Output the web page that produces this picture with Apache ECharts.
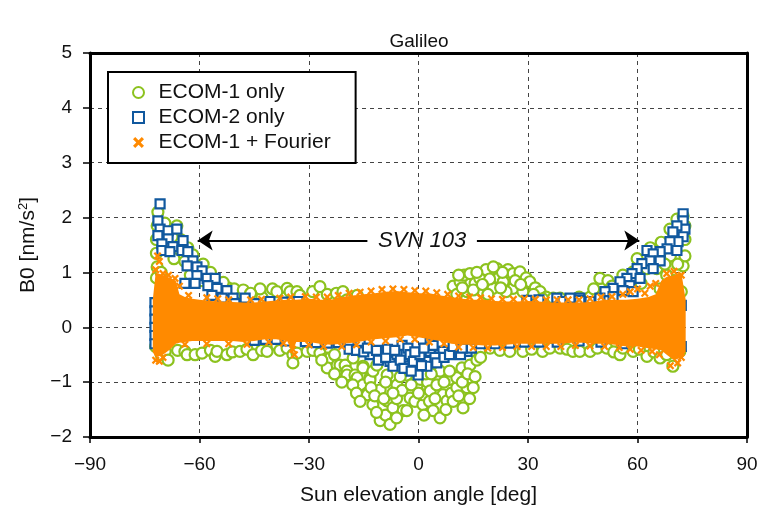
<!DOCTYPE html>
<html>
<head>
<meta charset="utf-8">
<script src="https://cdn.jsdelivr.net/npm/echarts@6/dist/echarts.min.js"></script>
<style>
html,body{margin:0;padding:0;background:#fff;}
#chart{width:763px;height:511px;}
</style>
</head>
<body>
<div id="chart"></div>
<script>
// ---------- axis ticks ----------
const xTicks = [-90, -60, -30, 0, 30, 60, 90];
const yTicks = [-2, -1, 0, 1, 2, 3, 4, 5];

// ---------- ECOM-1 only (green circles) ----------
const ecom1 = [
  [-71.4,2.1],[-71.6,1.85],[-71.8,1.6],[-71.8,1.35],[-71.6,1.1],[-71.8,0.9],[-70.5,1.0],[-69.5,1.9],[-66.2,1.85],
  [-65.2,1.6],[-67,1.25],[-63.2,1.45],[-61.8,1.32],[-61.2,1.07],[-59,1.15],[-58.5,0.95],[-56.6,0.89],[-55,0.8],
  [-52.2,0.72],[-50,0.62],[-47.5,0.6],[-45,0.57],[-42.9,0.55],[-43.4,0.7],[-40,0.7],[-38.8,0.65],[-36,0.71],
  [-35.2,0.65],[-33.3,0.65],[-32.5,0.58],[-29,0.65],[-27,0.74],[-25,0.6],[-22.5,0.62],[-20.7,0.65],[-19.6,0.5],[-16.8,0.58],
  [-67.5,1.65],[-64,1.2],[-62.5,0.95],[-59.5,0.85],[-57,1.0],[-53.5,0.82],[-50.5,0.7],[-48,0.68],[-46,0.62],
  [-72,-0.35],[-70.5,-0.5],[-69.4,-0.44],[-68.6,-0.6],[-66,-0.42],[-64,-0.44],[-63.4,-0.5],[-61.2,-0.5],[-59.3,-0.47],
  [-57,-0.42],[-55.7,-0.53],[-55.2,-0.44],[-52.5,-0.5],[-51,-0.45],[-48.9,-0.44],[-47,-0.4],[-45.3,-0.5],[-43,-0.42],
  [-41.5,-0.44],[-38.8,-0.33],[-38,-0.42],[-36,-0.38],[-34.4,-0.5],[-34.4,-0.65],[-33.3,-0.47],[-30.5,-0.44],[-28.9,-0.42],
  [-27,-0.47],[-25,-0.56],[-24.2,-0.56],[-25,-0.74],[-22.3,-0.69],[-21.5,-0.69],[-20.1,-0.69],[-19.6,-0.8],[-19.6,-0.87],
  [-17.9,-0.56],[-17.4,-0.87],[-16.8,-0.92],[-15.2,-0.71],[-15.2,-0.74],[-15.2,-1.05],[-14.1,-1.2],[-14,-1.23],[-13.3,-0.92],
  [-13.3,-0.96],[-12.5,-0.8],[-12.5,-1.41],[-11.4,-0.69],[-10.5,-1.14],[-10.5,-1.7],[-9,-1.6],[-8.6,-0.87],[-8.6,-1.34],
  [-7.8,-1.77],[-7,-1.47],[-6,-1.3],[-5.9,-1.05],[-4.5,-1.15],[-4.2,-1.52],[-3.2,-0.87],[-3.2,-1.52],[-2.3,-1.29],
  [-1,-1.35],[-0.4,-1.05],[0.5,-0.95],[1.2,-1.41],[1.2,-1.23],[2.5,-1.0],[3,-1.35],[3.2,-1.16],[4,-1.52],[5,-1.05],
  [5.9,-1.65],[5.9,-0.8],[6.7,-1.23],[7.8,-1.34],[8.5,-0.95],[9,-1.2],[10.5,-1.1],[10.5,-0.92],[11.9,-0.74],[12.2,-1.47],
  [13.3,-1.1],[14.1,-0.92],[14.1,-0.69],[15,-1.1],[16.8,-0.44],[19.6,-0.38],[22.3,-0.42],[25,-0.44],[28.6,-0.44],
  [-23,-0.85],[-21,-1.0],[-18,-1.05],[-17,-1.2],[-16,-1.35],[-13,-1.1],[-12,-1.25],[-11.5,-1.55],[-9.5,-1.3],[-9,-1.0],
  [-7,-1.2],[-6,-1.65],[-5,-0.9],[-2,-1.05],[0,-1.2],[1.5,-1.6],[2,-0.85],[3.5,-0.85],[4.5,-1.3],[7,-1.0],[7.5,-1.5],
  [8.5,-0.8],[9.5,-1.35],[11,-1.25],[12,-1.0],[13.5,-0.85],[14,-1.3],[15.5,-0.9],[16,-0.6],[17,-0.55],[-26.5,-0.6],[-23,-0.5],
  [31,-0.4],[34,-0.44],[36,-0.38],[38.8,-0.38],[40.7,-0.4],[42.3,-0.44],[44.2,-0.44],[47,-0.44],[49,-0.38],[51.6,-0.38],
  [53.5,-0.45],[55.2,-0.5],[56,-0.38],[58.8,-0.44],[60.5,-0.4],[62.6,-0.53],[64.5,-0.45],[66.2,-0.56],[68,-0.5],
  [69.7,-0.71],[71.6,-0.44],
  [9.5,0.75],[11.4,0.83],[12.5,0.95],[13.3,0.65],[14.1,0.98],[15.5,0.8],[16.8,0.89],[17.7,0.65],[18.5,1.05],[20.4,0.71],
  [21.5,1.07],[22,0.9],[23.2,0.83],[24.5,1.05],[25.9,0.98],[25.9,0.71],[27.8,1.01],[28.6,0.65],[29.5,0.9],[30.5,0.83],
  [32,0.72],[33.3,0.65],[35,0.55],[36.9,0.53],[38.8,0.53],[41.5,0.5],[44,0.55],[47,0.55],
  [10.5,0.6],[12,0.72],[15,0.68],[16,1.0],[19.5,0.88],[19,0.6],[23,1.0],[24,0.65],[26.5,0.85],[28,0.78],[31.5,0.6],
  [34,0.52],[20.5,1.1],[17.5,0.78],[11,0.95],[22.5,0.72],
  [49.7,0.89],[51.9,0.85],[48,0.7],[53,0.75],[56,0.95],[58.8,1.01],[59.9,1.25],[62.6,1.07],[63.5,1.45],[65.3,1.07],
  [66.2,0.7],[66.5,1.55],[68.9,1.79],[69,1.3],[70.8,1.97],[72.5,2.03],[73,1.85],[73,1.6],[72.5,1.12],[73,1.3],
  [71,1.15],[70,0.85],[72,0.65],[68,0.95],[61,0.8],[64.5,1.25],[67.5,1.15],[70.5,1.6]
];

// ---------- ECOM-2 only (blue squares) ----------
const ecom2 = [
  [-70.8,2.25],[-71.4,1.94],[-70.8,1.79],[-71.4,1.67],[-68.6,1.76],[-66.2,1.79],[-64.5,1.58],[-68.6,1.61],[-70.3,1.52],
  [-67.3,1.47],[-70.3,1.4],[-68.1,1.38],[-64.8,1.4],[-63.2,1.38],[-61.8,1.21],[-63.4,1.12],[-60.7,1.1],[-59.3,1.03],
  [-60.7,0.94],[-57.9,0.89],[-55.7,0.89],[-64,0.8],[-61.2,0.8],[-57.7,0.76],[-55.2,0.71],[-52.5,0.67],[-56.6,0.58],
  [-53.8,0.53],[-50.8,0.53],[-47.5,0.53],[-50.3,0.43],[-44.8,0.43],[-40.7,0.47],[-37,0.46],[-33,0.47],
  [-72.2,0.45],[-72.2,0.3],[-72.2,0.15],[-72.2,0.0],[-72.2,-0.15],[-72.2,-0.3],
  [-45,-0.24],[-42,-0.22],[-39,-0.22],[-36,-0.25],[-31,-0.26],[-28,-0.28],[-25,-0.29],[-22,-0.28],[-19,-0.27],[-16,-0.26],
  [-12.5,-0.44],[-9.7,-0.47],[-7.8,-0.62],[-5.9,-0.5],[-4.5,-0.33],[-2.9,-0.38],[-1.8,-0.65],[-0.4,-0.5],[-0.1,-0.87],
  [2.3,-0.62],[3.2,-0.44],[3.2,-0.29],[5.9,-0.44],[7.8,-0.44],[10.5,-0.42],[13.3,-0.44],[2.3,-0.71],[-2.3,-0.5],
  [-10.5,-0.56],[-13.3,-0.5],[-7,-0.71],[-3.2,-0.71],[-1.4,-0.62],[0.4,-0.5],[4,-0.33],[6.7,-0.44],
  [-19,-0.4],[-17,-0.42],[-15,-0.45],[-14,-0.38],[-11.5,-0.42],[-11,-0.6],[-9,-0.55],[-8.5,-0.4],[-6.5,-0.42],[-5,-0.6],
  [-4,-0.75],[-2,-0.8],[-1,-0.45],[0.8,-0.7],[1.5,-0.38],[4.5,-0.55],[5,-0.65],[7,-0.55],[8.5,-0.5],[9.5,-0.35],
  [11.5,-0.5],[12,-0.38],[14.5,-0.38],
  [17,-0.3],[21,-0.3],[25,-0.29],[29,-0.27],[33,-0.27],[38,-0.27],[44,-0.25],[50,-0.27],[56,-0.3],
  [29.7,0.49],[33,0.5],[37.9,0.53],[39.6,0.47],[41.5,0.53],[44.2,0.53],[44.2,0.49],[47,0.47],
  [72.5,2.07],[72.5,1.94],[73,1.79],[70.8,1.85],[69.7,1.74],[72.5,1.65],[71.1,1.56],[68.9,1.56],[68.1,1.43],[70.8,1.4],
  [66.2,1.38],[62.6,1.4],[64.3,1.34],[66.2,1.21],[63.4,1.21],[61.2,1.16],[59.9,1.07],[64.3,1.07],[58.5,0.98],[57.1,0.89],
  [60.7,0.89],[55.2,0.83],[57.9,0.76],[53.3,0.71],[56,0.67],[51.1,0.65],[53.3,0.56],[49.7,0.53],[58.8,0.65],
  [72,0.4],[72,-0.35]
];

// ---------- ECOM-1 + Fourier (orange crosses) ----------
// dense core band: x, upper edge, lower edge
const bandX     = [-72.8,-72,-70,-68,-66.5,-65.5,-64,-62,-60,-57,-54,-51,-48,-45,-42,-39,-36,-34.5,-33.5,-30,-27,-24,-21,-18,-15,-12,-9,-6,-3,0,3,6,9,12,15,18,21,24,27,30,33,36,39,42,45,48,51,54,57,60,63,65,66.5,68,70,72,73.2];
const bandUpper = [0.5,1.0,0.95,0.9,0.85,0.6,0.55,0.52,0.5,0.48,0.47,0.46,0.45,0.45,0.47,0.49,0.5,0.5,0.5,0.52,0.5,0.5,0.55,0.58,0.6,0.62,0.65,0.66,0.64,0.62,0.62,0.58,0.55,0.52,0.5,0.5,0.48,0.47,0.47,0.48,0.47,0.45,0.45,0.45,0.45,0.47,0.5,0.5,0.5,0.52,0.55,0.6,0.85,0.92,0.95,1.0,0.5];
const bandLower = [-0.45,-0.55,-0.5,-0.4,-0.3,-0.28,-0.27,-0.25,-0.25,-0.25,-0.25,-0.25,-0.27,-0.25,-0.22,-0.22,-0.25,-0.45,-0.27,-0.27,-0.3,-0.32,-0.3,-0.28,-0.25,-0.22,-0.2,-0.18,-0.15,-0.18,-0.22,-0.25,-0.3,-0.32,-0.32,-0.33,-0.33,-0.32,-0.3,-0.3,-0.3,-0.3,-0.3,-0.28,-0.28,-0.3,-0.3,-0.32,-0.35,-0.35,-0.38,-0.4,-0.42,-0.5,-0.6,-0.55,-0.45];
const fourier = [
  [-71.5,1.3],[-71,1.2],[-72,1.05],[-70,0.98],[-68.5,0.95],[-66.7,0.89],[-65.5,0.75],[-72,-0.6],[-71,-0.62],[-70,-0.55],
  [-34,-0.5],[-34.5,-0.4],
  [-63,0.58],[-58,0.54],[-55,0.52],[-52,0.5],[-46,0.5],[-43,0.51],[-38,0.53],[-35,0.55],[-31,0.56],[-28,0.55],[-25,0.55],
  [-22,0.58],[-19,0.62],[-16,0.64],[-13,0.66],[-10,0.69],[-7,0.7],[-4,0.69],[-1,0.67],[2,0.66],[5,0.63],[8,0.6],[11,0.57],
  [14,0.55],[17,0.54],[20,0.52],[23,0.51],[26,0.51],[29,0.52],[32,0.51],[35,0.5],[38,0.5],[41,0.5],[44,0.5],[47,0.52],
  [50,0.55],[53,0.56],[56,0.6],[58,0.65],[60,0.7],[62,0.62],[63.5,0.75],[65,0.8],[68,0.98],[70,1.02],[72,0.95],
  [-64,-0.31],[-58,-0.3],[-52,-0.3],[-47,-0.31],[-41,-0.27],[-37,-0.29],[-30,-0.32],[-26,-0.35],[-21,-0.35],[-17,-0.32],
  [-13,-0.27],[-9,-0.25],[-5,-0.22],[-1,-0.22],[3,-0.27],[7,-0.3],[11,-0.36],[15,-0.37],[19,-0.38],[23,-0.37],[27,-0.35],
  [31,-0.35],[35,-0.35],[39,-0.35],[43,-0.33],[47,-0.34],[51,-0.35],[55,-0.37],[58,-0.4],[61,-0.42],[64,-0.44],
  [66,-0.5],[69,-0.7],[71,-0.65],[72,-0.55]
];

// ---------- annotation ----------
const annotY = 1.58;
const arrowLeft  = [-14, -60.5];
const arrowRight = [16, 60.5];
const annotText = 'SVN 103';
const annotX = 1;

const GREEN = '#8cc21e', BLUE = '#10589e', ORANGE = '#ff8a00';
const FONT = 'Liberation Sans';
const crossPath = 'path://M2,0 L5,3 L8,0 L10,2 L7,5 L10,8 L8,10 L5,7 L2,10 L0,8 L3,5 L0,2 Z';
const squarePath = 'path://M0,0 L10,0 L10,10 L0,10 Z';
const fmt = v => String(v).replace('-', '\u2212');

const chart = echarts.init(document.getElementById('chart'), null, {renderer: 'canvas'});
const axisCommon = {
  axisLine: {show: true, onZero: false, lineStyle: {color: '#000', width: 3}},
};
chart.setOption({
  animation: false,
  backgroundColor: '#fff',
  textStyle: {fontFamily: FONT},
  title: {
    text: 'Galileo', left: 414, top: 27, textAlign: 'center',
    textStyle: {fontFamily: FONT, fontSize: 19, fontWeight: 'normal', color: '#111'}
  },
  legend: {
    data: ['ECOM-1 only', 'ECOM-2 only', 'ECOM-1 + Fourier'],
    orient: 'vertical', left: 108, top: 72,
    padding: [10, 25, 10, 24], itemGap: 4,
    itemWidth: 30, itemHeight: 11, symbolKeepAspect: true,
    borderColor: '#000', borderWidth: 2, backgroundColor: '#fff',
    textStyle: {fontFamily: FONT, fontSize: 21, color: '#111'}
  },
  grid: {left: 90, right: 16, top: 53, bottom: 71, containLabel: false},
  xAxis: [{
    type: 'value', min: xTicks[0], max: xTicks[xTicks.length - 1], interval: xTicks[1] - xTicks[0],
    name: 'Sun elevation angle [deg]', nameLocation: 'middle', nameGap: 48,
    nameTextStyle: {fontFamily: FONT, fontSize: 21, color: '#111'},
    ...axisCommon,
    axisTick: {show: true, length: 6, lineStyle: {color: '#000', width: 1.5}},
    axisLabel: {margin: 18, fontSize: 19, color: '#111', fontFamily: FONT, formatter: fmt},
    splitLine: {show: true, lineStyle: {color: '#444', width: 1, type: [4, 4]}}
  }, {
    type: 'value', position: 'top', min: xTicks[0], max: xTicks[xTicks.length - 1], interval: xTicks[1] - xTicks[0],
    ...axisCommon, axisTick: {show: false}, axisLabel: {show: false}, splitLine: {show: false}
  }],
  yAxis: [{
    type: 'value', min: yTicks[0], max: yTicks[yTicks.length - 1], interval: 1,
    name: 'B0 [nm/s{sup|2}]', nameLocation: 'middle', nameGap: 50, nameRotate: 90,
    nameTextStyle: {fontFamily: FONT, fontSize: 21, color: '#111',
      rich: {sup: {fontFamily: FONT, fontSize: 13, color: '#111', padding: [0, 0, 10, 0]}}},
    ...axisCommon,
    axisTick: {show: true, length: 7, lineStyle: {color: '#000', width: 1.5}},
    axisLabel: {margin: 18, fontSize: 19, color: '#111', fontFamily: FONT, formatter: fmt},
    splitLine: {show: true, lineStyle: {color: '#444', width: 1, type: [4, 4]}}
  }, {
    type: 'value', position: 'right', min: yTicks[0], max: yTicks[yTicks.length - 1], interval: 1,
    ...axisCommon, axisTick: {show: false}, axisLabel: {show: false}, splitLine: {show: false}
  }],
  series: [
    {
      name: 'ECOM-1 only', type: 'scatter', data: ecom1,
      symbol: 'circle', symbolSize: 11,
      itemStyle: {color: '#fff', borderColor: GREEN, borderWidth: 2.2, opacity: 1},
      z: 2
    },
    {
      name: 'ECOM-2 only', type: 'scatter', data: ecom2,
      symbol: squarePath, symbolSize: 9, symbolKeepAspect: true,
      itemStyle: {color: '#fff', borderColor: BLUE, borderWidth: 2.2, opacity: 1},
      z: 3
    },
    {
      name: 'band', type: 'custom', data: [[0, 0]], silent: true, z: 4,
      renderItem: (params, api) => {
        const pts = [];
        for (let i = 0; i < bandX.length; i++) pts.push(api.coord([bandX[i], bandUpper[i]]));
        for (let i = bandX.length - 1; i >= 0; i--) pts.push(api.coord([bandX[i], bandLower[i]]));
        return {type: 'polygon', shape: {points: pts}, style: {fill: ORANGE}};
      }
    },
    {
      name: 'ECOM-1 + Fourier', type: 'scatter', data: fourier,
      symbol: crossPath, symbolSize: 8, symbolKeepAspect: true,
      itemStyle: {color: ORANGE, opacity: 1},
      z: 5
    },
    {
      name: 'annot', type: 'scatter', data: [], z: 6,
      markLine: {
        silent: true, animation: false,
        symbol: ['none', 'arrow'], symbolSize: 15,
        lineStyle: {color: '#000', width: 2, type: 'solid'},
        itemStyle: {color: '#000'},
        label: {show: false},
        data: [
          [{coord: [arrowLeft[0], annotY]}, {coord: [arrowLeft[1], annotY]}],
          [{coord: [arrowRight[0], annotY]}, {coord: [arrowRight[1], annotY]}]
        ]
      },
      markPoint: {
        silent: true, animation: false,
        symbol: 'circle', symbolSize: 1, itemStyle: {color: 'rgba(0,0,0,0)'},
        label: {show: true, position: 'inside', formatter: annotText, fontFamily: FONT,
          fontStyle: 'italic', fontSize: 22, color: '#111'},
        data: [{coord: [annotX, annotY]}]
      }
    }
  ]
});
</script>
</body>
</html>
